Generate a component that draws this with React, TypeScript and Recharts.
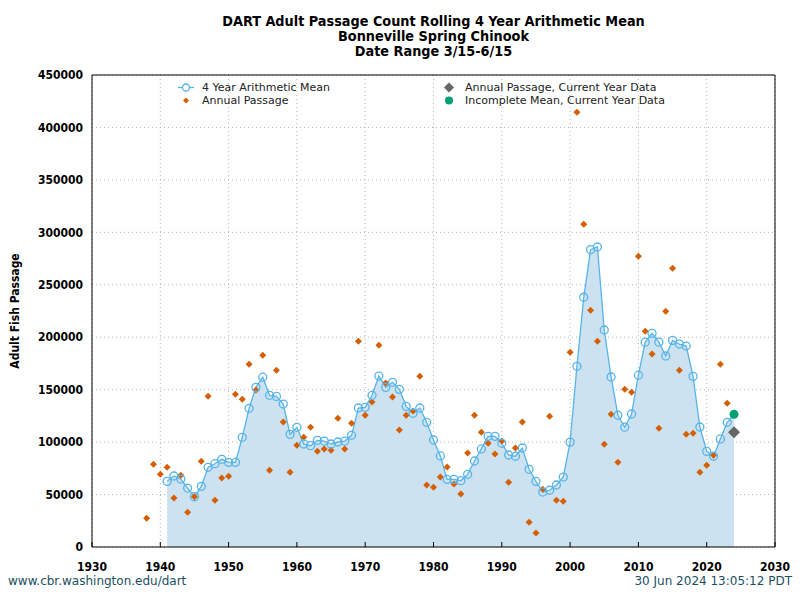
import {
  Area,
  CartesianGrid,
  ComposedChart,
  Legend,
  Line,
  ReferenceArea,
  Scatter,
  XAxis,
  YAxis,
} from "recharts";

// Annual passage counts, one per year starting in 1938
const ANNUAL_START = 1938;
const annualPassage = [
  27400, 78800, 69300, 76000, 46700, 68300, 33100, 48000, 81700, 143800,
  44600, 65800, 67500, 145700, 140800, 174200, 149600, 182800, 73200, 168500,
  119200, 71200, 97000, 104600, 114100, 91200, 93400, 92200, 122700, 93400,
  117900, 196100, 125600, 138200, 192300, 156300, 143000, 111500, 125600, 129700,
  162700, 59100, 56900, 66700, 76300, 60100, 50500, 89600, 125600, 109400,
  98900, 88700, 101000, 61700, 94400, 119200, 23500, 13300, 55000, 124600,
  44500, 43500, 185600, 414500, 307700, 225700, 196100, 97900, 126500, 80700,
  150300, 147500, 277300, 205800, 183900, 113300, 224700, 265700, 168400, 107400,
  108400, 71200, 77900, 87400, 174200, 137000,
];

// Rolling 4 year mean, starting in 1941
const MEAN_START = 1941;
const rollingMean = [
  62600, 67700, 64800, 56200, 48000, 57800, 76000, 79400, 83600, 80700,
  80700, 104600, 132200, 152200, 161900, 144600, 143600, 136300, 107400, 114100,
  98200, 96600, 101700, 101000, 98200, 100100, 101000, 106500, 132500, 133200,
  144600, 163000, 152200, 157000, 150300, 134100, 127500, 132500, 118900, 102000,
  86800, 64500, 64500, 63200, 69300, 82000, 93500, 105500, 105500, 98900,
  87700, 86500, 94400, 74100, 62600, 52400, 54100, 59100, 66700, 100000,
  172300, 238100, 283500, 286000, 206900, 162100, 125600, 114200, 126800, 163800,
  195300, 203700, 195300, 182100, 197000, 193500, 191600, 162700, 114400, 91200,
  86500, 103000, 118900,
];

const CURRENT_YEAR = 2024;
const currentPassage = 109300;
const incompleteMean = 126500;

const xTicks = [1930, 1940, 1950, 1960, 1970, 1980, 1990, 2000, 2010, 2020, 2030];
const yTicks = [0, 50000, 100000, 150000, 200000, 250000, 300000, 350000, 400000, 450000];

const BLUE = "#56b4e9";
const ORANGE = "#d55e00";
const GREEN = "#009e73";
const GREY = "#666666";
const FILL = "#cce2f0";

const annualRows = annualPassage.map((v, i) => ({ year: ANNUAL_START + i, value: v }));
const meanRows = [
  ...rollingMean.map((v, i) => ({ year: MEAN_START + i, mean: v })),
  { year: CURRENT_YEAR, mean: incompleteMean },
];
const currentRows = [{ year: CURRENT_YEAR, value: currentPassage }];
const incompleteRows = [{ year: CURRENT_YEAR, value: incompleteMean }];

const condensed = "'DejaVu Sans Condensed', 'DejaVu Sans', sans-serif";
const plain = "'DejaVu Sans', sans-serif";

const tickStyle = { fill: "#000", fontSize: 12, fontWeight: 700, fontFamily: condensed };

function Diamond({ cx, cy, r, color }: { cx: number; cy: number; r: number; color: string }) {
  return <path d={`M${cx},${cy - r}L${cx + r},${cy}L${cx},${cy + r}L${cx - r},${cy}Z`} fill={color} />;
}

function MeanDot(props: any) {
  const { cx, cy, payload, index } = props;
  if (payload.year === CURRENT_YEAR) return <g key={`d${index}`} />;
  return (
    <circle key={`d${index}`} cx={cx} cy={cy} r={4} fill="none" stroke={BLUE} strokeWidth={1.3} />
  );
}

function LegendBox() {
  const row = (top: number, left: number, icon: React.ReactNode, text: string) => (
    <div
      style={{
        position: "absolute",
        top,
        left,
        height: 13,
        display: "flex",
        alignItems: "center",
        whiteSpace: "nowrap",
      }}
    >
      <svg width={18} height={13} style={{ marginRight: 7 }}>
        {icon}
      </svg>
      <span>{text}</span>
    </div>
  );
  return (
    <div style={{ position: "relative", width: 800, height: 30, fontFamily: plain, fontSize: 11, color: "#222" }}>
      {row(
        0,
        177,
        <g>
          <line x1={1} y1={6.5} x2={17} y2={6.5} stroke={BLUE} strokeWidth={1.3} />
          <circle cx={9} cy={6.5} r={3.5} fill="#fff" stroke={BLUE} strokeWidth={1.3} />
        </g>,
        "4 Year Arithmetic Mean"
      )}
      {row(13, 177, <Diamond cx={9} cy={6.5} r={3} color={ORANGE} />, "Annual Passage")}
      {row(0, 440, <Diamond cx={9} cy={6.5} r={5} color={GREY} />, "Annual Passage, Current Year Data")}
      {row(13, 440, <circle cx={9} cy={6.5} r={4} fill={GREEN} />, "Incomplete Mean, Current Year Data")}
    </div>
  );
}

function YLabel(props: any) {
  const { viewBox } = props;
  const x = 15;
  const y = viewBox.y + viewBox.height / 2;
  return (
    <text
      x={x}
      y={y}
      transform={`rotate(-90, ${x}, ${y})`}
      textAnchor="middle"
      dominantBaseline="central"
      style={{ fontSize: 12, fontWeight: 700, fontFamily: condensed, fill: "#000" }}
    >
      Adult Fish Passage
    </text>
  );
}

export default function App() {
  return (
    <div style={{ position: "absolute", left: 0, top: 0, width: 800, height: 600, background: "#fff" }}>
      <div
        style={{
          position: "absolute",
          top: 14,
          left: 92,
          width: 683,
          textAlign: "center",
          fontFamily: condensed,
          fontWeight: 700,
          fontSize: 14.3,
          lineHeight: "15px",
          color: "#000",
        }}
      >
        <div>DART Adult Passage Count Rolling 4 Year Arithmetic Mean</div>
        <div>Bonneville Spring Chinook</div>
        <div>Date Range 3/15-6/15</div>
      </div>
      <ComposedChart width={800} height={600} margin={{ top: 75, right: 25, bottom: 0, left: 0 }}>
        <XAxis
          dataKey="year"
          type="number"
          domain={[1930, 2030]}
          ticks={xTicks}
          allowDataOverflow
          height={53}
          tick={tickStyle}
          tickSize={-5}
          tickMargin={20}
          tickLine={{ stroke: "#000" }}
          axisLine={false}
        />
        <YAxis
          type="number"
          domain={[0, 450000]}
          ticks={yTicks}
          width={92}
          tick={tickStyle}
          tickSize={0}
          tickMargin={9}
          tickLine={false}
          axisLine={false}
          label={<YLabel />}
        />
        <Area
          data={meanRows}
          dataKey="mean"
          type="linear"
          fill={FILL}
          fillOpacity={1}
          stroke="none"
          isAnimationActive={false}
        />
        <CartesianGrid stroke="#b4b4b4" strokeDasharray="1 3" />
        <Line
          data={meanRows}
          dataKey="mean"
          type="linear"
          stroke={BLUE}
          strokeWidth={1.3}
          dot={MeanDot}
          activeDot={false}
          isAnimationActive={false}
        />
        <Scatter
          data={annualRows}
          dataKey="value"
          shape={(p: any) => <Diamond cx={p.cx} cy={p.cy} r={3.5} color={ORANGE} />}
          isAnimationActive={false}
        />
        <Scatter
          data={currentRows}
          dataKey="value"
          shape={(p: any) => <Diamond cx={p.cx} cy={p.cy} r={6} color={GREY} />}
          isAnimationActive={false}
        />
        <Scatter
          data={incompleteRows}
          dataKey="value"
          shape={(p: any) => <circle cx={p.cx} cy={p.cy} r={4.5} fill={GREEN} />}
          isAnimationActive={false}
        />
        <ReferenceArea
          x1={1930}
          x2={2030}
          y1={0}
          y2={450000}
          fill="none"
          stroke="#000"
          strokeWidth={1}
          ifOverflow="visible"
        />
        <Legend
          layout="horizontal"
          verticalAlign="middle"
          align="center"
          wrapperStyle={{ top: 81, left: 0, width: 800 }}
          content={() => <LegendBox />}
        />
      </ComposedChart>
      <div
        style={{
          position: "absolute",
          top: 574,
          left: 8,
          fontFamily: plain,
          fontSize: 12,
          color: "#1b4f5f",
          whiteSpace: "nowrap",
        }}
      >
        www.cbr.washington.edu/dart
      </div>
      <div
        style={{
          position: "absolute",
          top: 574,
          right: 8,
          fontFamily: plain,
          fontSize: 12,
          color: "#1b4f5f",
          whiteSpace: "nowrap",
        }}
      >
        30 Jun 2024 13:05:12 PDT
      </div>
    </div>
  );
}
